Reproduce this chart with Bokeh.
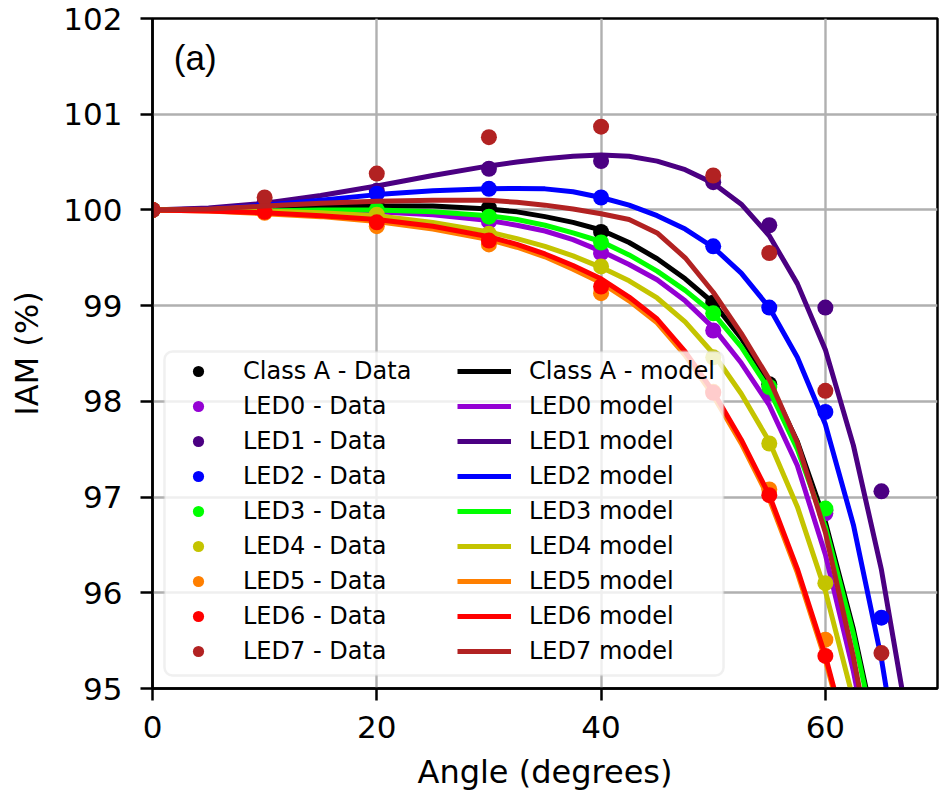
from bokeh.plotting import figure
from bokeh.models import Legend, LegendItem, Range1d, FixedTicker, BoxAnnotation, Label
from bokeh.embed import file_html
from bokeh.resources import INLINE

nan = float("nan")

# Measured data angles and modelled angles (degrees)
data_angles = [0, 10, 20, 30, 40, 50, 55, 60, 65]
model_angles = [0, 5, 10, 15, 20, 25, 30, 32.5, 35, 37.5, 40, 42.5, 45, 47.5,
                50, 52.5, 55, 57.5, 60, 62.5, 65, 67.5, 70]

series_names = ["Class A", "LED0", "LED1", "LED2", "LED3", "LED4", "LED5", "LED6", "LED7"]
series_colors = ["#000000", "#9400D3", "#4B0082", "#0000FF", "#00FF00",
                 "#C4C400", "#FF7F00", "#FF0000", "#B22222"]

# IAM data (%)
classA_data = [100, 100.0, 100.05, 100.02, 99.77, 99.03, 98.18, 96.86, nan]
led0_data = [100, 100.0, 99.98, 99.88, 99.55, 98.74, 98.08, 96.83, nan]
led1_data = [100, 100.08, 100.2, 100.43, 100.51, 100.29, 99.84, 98.98, 97.06]
led2_data = [100, 100.05, 100.17, 100.22, 100.13, 99.62, 98.98, 97.89, 95.74]
led3_data = [100, 99.99, 100.0, 99.93, 99.66, 98.92, 98.15, 96.88, nan]
led4_data = [100, 99.99, 99.95, 99.75, 99.41, 98.46, 97.56, 96.10, nan]
led5_data = [100, 99.97, 99.83, 99.64, 99.13, 98.10, 97.08, 95.51, nan]
led6_data = [100, 99.98, 99.87, 99.68, 99.20, 98.09, 97.02, 95.34, nan]
led7_data = [100, 100.13, 100.38, 100.76, 100.87, 100.36, 99.55, 98.11, 95.37]

# IAM model curves (%)
classA_model = [100, 100.0, 100.01, 100.03, 100.04, 100.04, 100.01, 99.98, 99.93, 99.87, 99.79, 99.66,
                99.49, 99.28, 99.03, 98.66, 98.20, 97.58, 96.74, 95.62, 94.25, 92.6, 90.7]
led0_model = [100, 100.0, 99.99, 99.99, 99.98, 99.95, 99.89, 99.84, 99.78, 99.69, 99.57, 99.43,
              99.27, 99.05, 98.77, 98.40, 97.96, 97.33, 96.40, 95.18, 93.7, 92.0, 90.1]
led1_model = [100, 100.02, 100.07, 100.15, 100.25, 100.36, 100.46, 100.50, 100.535, 100.56, 100.575, 100.56,
              100.51, 100.42, 100.28, 100.06, 99.73, 99.23, 98.54, 97.54, 96.24, 94.54, 92.44]
led2_model = [100, 100.01, 100.05, 100.10, 100.16, 100.20, 100.22, 100.225, 100.22, 100.19, 100.13, 100.05,
              99.94, 99.80, 99.61, 99.34, 98.98, 98.46, 97.76, 96.71, 95.31, 93.51, 91.3]
led3_model = [100, 100.0, 99.99, 100.0, 100.0, 99.98, 99.94, 99.90, 99.84, 99.76, 99.67, 99.53,
              99.36, 99.16, 98.92, 98.57, 98.12, 97.50, 96.69, 95.57, 94.2, 92.55, 90.65]
led4_model = [100, 100.0, 99.99, 99.97, 99.94, 99.87, 99.77, 99.70, 99.62, 99.52, 99.40, 99.26,
              99.08, 98.83, 98.50, 98.08, 97.58, 96.90, 96.02, 94.88, 93.5, 92.0, 90.3]
led5_model = [100, 99.99, 99.96, 99.93, 99.88, 99.80, 99.69, 99.61, 99.51, 99.38, 99.24, 99.05,
              98.82, 98.48, 98.06, 97.56, 96.98, 96.21, 95.30, 94.2, 92.9, 91.5, 90.0]
led6_model = [100, 99.99, 99.97, 99.94, 99.90, 99.83, 99.72, 99.64, 99.54, 99.42, 99.28, 99.09,
              98.86, 98.52, 98.10, 97.60, 97.02, 96.25, 95.34, 94.24, 92.94, 91.5, 89.9]
led7_model = [100, 100.01, 100.04, 100.07, 100.09, 100.10, 100.10, 100.08, 100.05, 100.01, 99.96, 99.90,
              99.76, 99.50, 99.14, 98.71, 98.23, 97.57, 96.63, 95.33, 93.8, 92.0, 90.0]

x_ticks = [0, 20, 40, 60]
y_ticks = [95, 96, 97, 98, 99, 100, 101, 102]

all_data = [classA_data, led0_data, led1_data, led2_data, led3_data,
            led4_data, led5_data, led6_data, led7_data]
all_model = [classA_model, led0_model, led1_model, led2_model, led3_model,
             led4_model, led5_model, led6_model, led7_model]

p = figure(width=943, height=794, x_range=Range1d(0, 70), y_range=Range1d(95, 102),
           output_backend="svg", toolbar_location=None,
           min_border_left=152, min_border_right=6, min_border_top=18, min_border_bottom=106)

p.xaxis.ticker = FixedTicker(ticks=x_ticks)
p.yaxis.ticker = FixedTicker(ticks=y_ticks)
p.xaxis.axis_label = "Angle (degrees)"
p.yaxis.axis_label = "IAM (%)"
for ax in [p.xaxis, p.yaxis]:
    ax.major_label_text_font = "DejaVu Sans"
    ax.major_label_text_font_size = "31px"
    ax.major_label_text_color = "black"
    ax.axis_label_text_font = "DejaVu Sans"
    ax.axis_label_text_font_size = "32px"
    ax.axis_label_text_font_style = "normal"
    ax.axis_label_text_color = "black"
    ax.axis_line_width = 2.5
    ax.axis_line_color = "black"
    ax.major_tick_line_width = 2.5
    ax.major_tick_line_color = "black"
    ax.major_tick_out = 12
    ax.major_tick_in = 0
    ax.minor_tick_line_color = None
p.yaxis.major_label_standoff = 18
p.yaxis.axis_label_standoff = 14
p.xaxis.major_label_standoff = 15
p.xaxis.axis_label_standoff = 12

p.grid.grid_line_color = "#b0b0b0"
p.grid.grid_line_width = 2.4
p.outline_line_color = "black"
p.outline_line_width = 2.5
p.outline_line_alpha = 1.0
p.background_fill_color = "white"
p.border_fill_color = "white"

data_items = []
model_items = []
for name, col, d, m in zip(series_names, series_colors, all_data, all_model):
    r_d = p.scatter(data_angles, d, size=16, fill_color=col, line_color=None)
    r_m = p.line(model_angles, m, line_color=col, line_width=5, line_join="round")
    sep = " - " if name == "Class A" else " "
    data_items.append(LegendItem(label=name + " - Data", renderers=[r_d]))
    model_items.append(LegendItem(label=name + sep + "model", renderers=[r_m]))

box = BoxAnnotation(left=1.07, right=50.92, bottom=95.136, top=98.52,
                    fill_color="white", fill_alpha=0.8,
                    line_color="#cccccc", line_width=2.5, border_radius=8)
p.add_layout(box)

for items, xloc in [(data_items, 19), (model_items, 305)]:
    leg = Legend(items=items, location=(xloc, 23),
                 border_line_color=None, background_fill_alpha=0,
                 label_text_font="DejaVu Sans", label_text_font_size="24px",
                 label_text_color="black",
                 glyph_width=54, glyph_height=28, label_height=28,
                 label_standoff=18, spacing=7, padding=0, margin=0)
    p.add_layout(leg)

p.add_layout(Label(x=1.9, y=101.59, text="(a)", text_font="Liberation Sans",
                   text_font_size="35px", text_baseline="middle", text_color="black"))

open("out.html", "w").write(file_html(p, INLINE))
